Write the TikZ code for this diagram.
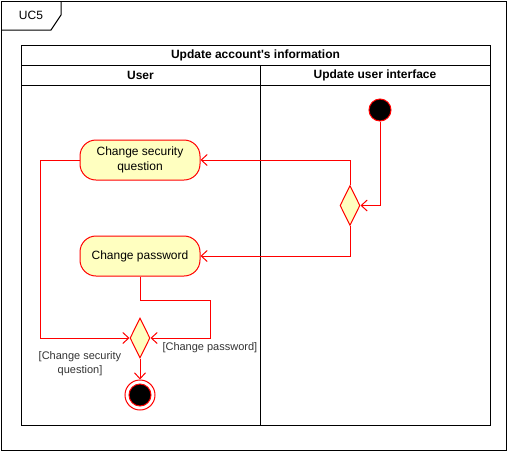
\documentclass[tikz,border=0pt]{standalone}
\usepackage{fontspec}
\setmainfont{Liberation Sans}
\usetikzlibrary{shapes.geometric,arrows.meta}

\definecolor{actfill}{HTML}{FFFFC0}
\definecolor{umlred}{HTML}{FF0000}
\definecolor{guardgray}{HTML}{333333}

\tikzset{
	action/.style={draw=umlred, fill=actfill, rounded corners=16pt, minimum width=120pt, minimum height=40pt, align=center, font=\fontsize{12}{14.5}\selectfont, inner sep=0pt},
	decision/.style={draw=umlred, fill=actfill, diamond, minimum width=20pt, minimum height=40pt, aspect=0.5, inner sep=0pt},
	flow/.style={draw=umlred, -{Straight Barb[length=6pt,width=11pt]}},
	guard/.style={font=\fontsize{11}{14}\selectfont, text=guardgray, align=center, inner sep=0pt},
	header/.style={font=\bfseries\fontsize{12}{14}\selectfont, inner sep=0pt}
}

\begin{document}
\begin{tikzpicture}[x=1pt, y=-1pt, line width=1pt]
			\useasboundingbox (0,0) rectangle (507,451);
			% frame and tab
			\draw (1,1) rectangle (506,450);
			\draw (1,30) -- (51,30) -- (61,15) -- (61,1);
			\node[font=\fontsize{12}{14}\selectfont, inner sep=0pt] (uc) at (31,15) {UC5};
			% pool and lanes
			\draw (21,45) rectangle (490,425);
			\draw (21,65) -- (490,65);
			\draw (21,85) -- (490,85);
			\draw (260,65) -- (260,425);
			\node[header] (pool) at (255.5,55) {Update account\textquotesingle s information};
			\node[header] (laneuser) at (140.5,75) {User};
			\node[header] (laneui) at (375,75) {Update user interface};
			% nodes
			\node[circle, draw=umlred, fill=black, minimum size=22pt, inner sep=0pt] (start) at (380,110) {};
			\node[decision] (choice) at (350,205.5) {};
			\node[action] (secq) at (140,160) {Change security\\question};
			\node[action] (passw) at (140,256) {Change password};
			\node[decision] (merge) at (140,338) {};
			\node[circle, draw=umlred, fill=white, minimum size=30pt, inner sep=0pt] (stop) at (140,395) {};
			\filldraw[draw=umlred, fill=black] (stop.center) circle (11pt);
			\coordinate (loopleft) at (40,160);
			\coordinate (loopright) at (210,300);
			% flows
			\draw[flow] (start) |- (choice.east);
			\draw[flow] (choice.north) |- (secq.east);
			\draw[flow] (choice.south) |- (passw.east);
			\draw[flow] (secq.west) -- (loopleft) |- (merge.west);
			\draw[flow] (passw.south) |- (loopright) |- (merge.east);
			\draw[flow] (merge.south) -- (stop.north);
			% guards
			\node[guard] (gsecq) at (80,364) {[Change security\\question]};
			\node[guard, anchor=west] (gpassw) at (162,348) {[Change password]};
\end{tikzpicture}
\end{document}
